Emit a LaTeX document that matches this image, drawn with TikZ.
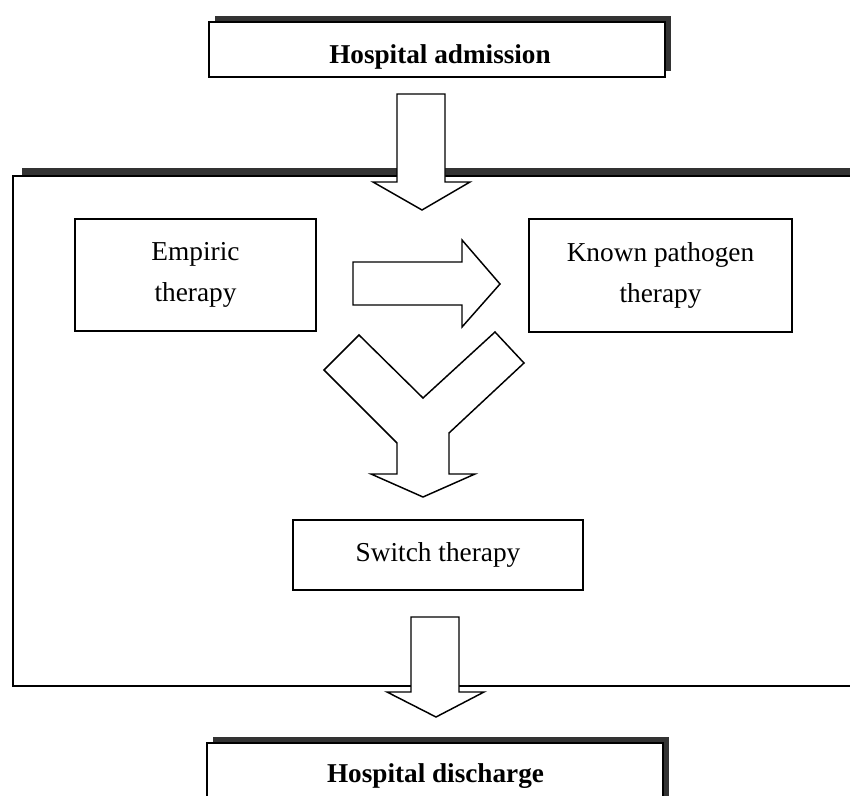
\documentclass[tikz,border=0pt]{standalone}
\usepackage{fontspec}
\setmainfont{Liberation Serif}
\usetikzlibrary{shadows}
\definecolor{shadowgrey}{RGB}{51,51,51}
\tikzset{
  stage/.style={draw, line width=1.1pt, fill=white, align=center, inner sep=0pt,
    font=\fontsize{20.5}{30.75}\selectfont},
  titlebox/.style={draw, line width=1.6pt, fill=white, inner sep=0pt,
    general shadow={fill=shadowgrey, shadow xshift=4.5pt, shadow yshift=4.5pt}},
  titletext/.style={font=\fontsize{20.4}{24}\selectfont\bfseries, inner sep=0pt, anchor=base},
  blockarrow/.style={draw, line width=1.1pt, fill=white, line join=miter},
}
\begin{document}
\begin{tikzpicture}[x=0.75pt, y=-0.75pt]
  \useasboundingbox (0,0) rectangle (850,796);
  \clip (0,0) rectangle (850,796);
  % hospital stay frame
  \node[draw, line width=1.6pt, fill=white, inner sep=0pt,
    minimum width=659.25pt, minimum height=382.5pt,
    general shadow={fill=shadowgrey, shadow xshift=6.75pt, shadow yshift=6pt}] (stay) at (452.5,431) {};
  \node[stage, minimum width=180.75pt, minimum height=84pt] (empiric) at (195.5,275) {Empiric\\therapy};
  \node[stage, minimum width=197.25pt, minimum height=84.75pt] (known) at (660.5,275.5) {Known pathogen\\therapy};
  \node[stage, minimum width=217.5pt, minimum height=52.5pt] (switch) at (438,555) {Switch therapy};
  % block arrows
  \draw[blockarrow] (397,94) -- (445,94) -- (445,182) -- (470,182) -- (422,210) -- (373,182) -- (397,182) -- cycle;
  \draw[blockarrow] (353,262) -- (462,262) -- (462,240) -- (500,284) -- (462,327) -- (462,305) -- (353,305) -- cycle;
  \draw[blockarrow] (359,335) -- (423,398) -- (495,332) -- (524,363) -- (449,433) -- (449,474) -- (475,474)
    -- (423,497) -- (371,474) -- (397,474) -- (397,443) -- (324,370) -- cycle;
  \draw[blockarrow] (411,617) -- (459,617) -- (459,692) -- (484,692) -- (436,717) -- (387,692) -- (411,692) -- cycle;
  % admission and discharge
  \node[titlebox, minimum width=342pt, minimum height=41.25pt] (admitbox) at (437,49.5) {};
  \node[titletext] (admit) at (440,63) {Hospital admission};
  \node[titlebox, minimum width=342pt, minimum height=50.25pt] (dischbox) at (435,776.5) {};
  \node[titletext] (disch) at (435.5,782) {Hospital discharge};
\end{tikzpicture}
\end{document}
